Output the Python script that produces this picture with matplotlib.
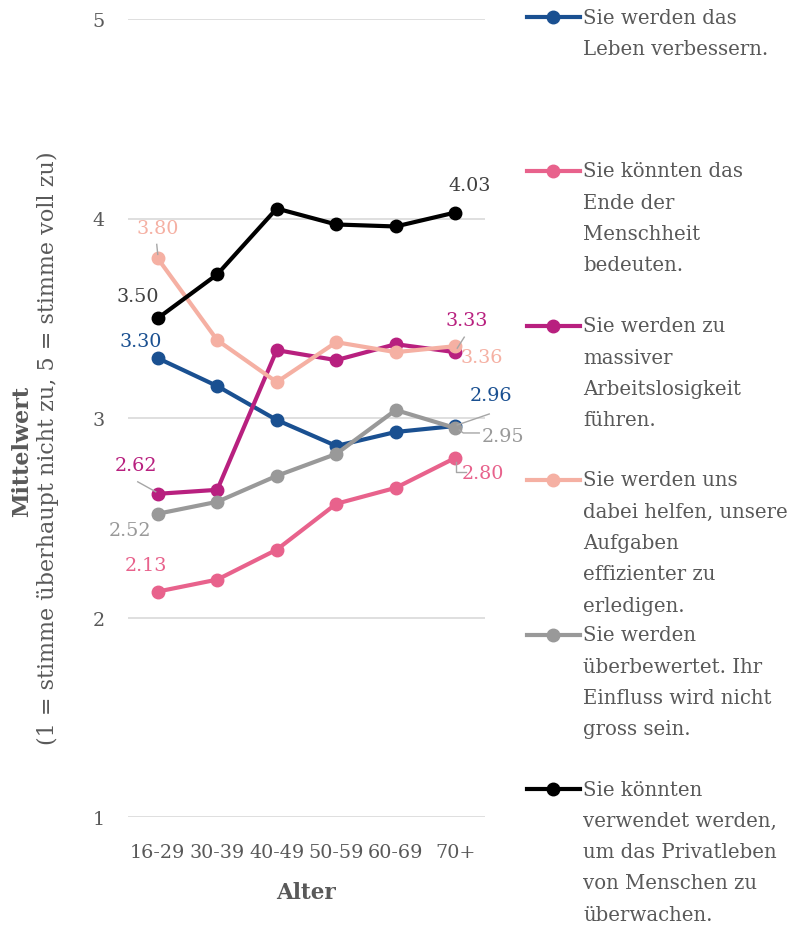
import matplotlib.pyplot as plt
from matplotlib.lines import Line2D

plt.rcParams['font.family'] = ['DejaVu Serif']

groups = ["16-29", "30-39", "40-49", "50-59", "60-69", "70+"]

leben = [3.30, 3.16, 2.99, 2.86, 2.93, 2.96]
ende = [2.13, 2.19, 2.34, 2.57, 2.65, 2.80]
arbeit = [2.62, 2.64, 3.34, 3.29, 3.37, 3.33]
effizient = [3.80, 3.39, 3.18, 3.38, 3.33, 3.36]
ueberbewertet = [2.52, 2.58, 2.71, 2.82, 3.04, 2.95]
privat = [3.50, 3.72, 4.05, 3.97, 3.96, 4.03]

labels = [
    ["Sie werden das", "Leben verbessern."],
    ["Sie könnten das", "Ende der", "Menschheit", "bedeuten."],
    ["Sie werden zu", "massiver", "Arbeitslosigkeit", "führen."],
    ["Sie werden uns", "dabei helfen, unsere", "Aufgaben", "effizienter zu", "erledigen."],
    ["Sie werden", "überbewertet. Ihr", "Einfluss wird nicht", "gross sein."],
    ["Sie könnten", "verwendet werden,", "um das Privatleben", "von Menschen zu", "überwachen."],
]

colors = ["#1a5091", "#e8628c", "#b8207f", "#f5b0a3", "#999999", "#000000"]
series = [leben, ende, arbeit, effizient, ueberbewertet, privat]
txt = "#595959"

W, H = 789, 928
fig = plt.figure(figsize=(W / 100, H / 100), dpi=100)
ax = fig.add_axes([128 / W, 1 - 818 / H, 357 / W, 798 / H])

x = list(range(len(groups)))
for vals, c in zip(series, colors):
    ax.plot(x, vals, color=c, lw=3, marker="o", ms=9, zorder=3)

ax.set_xlim(-0.5, 5.5)
ax.set_ylim(1, 5)
ax.set_yticks([1, 2, 3, 4, 5])
ax.set_xticks(x)
ax.set_xticklabels(groups)
ax.grid(axis="y", color="#d9d9d9", lw=1.2)
ax.set_axisbelow(True)
for s in ax.spines.values():
    s.set_visible(False)
ax.tick_params(length=0, labelsize=13.8, colors=txt)
ax.tick_params(axis="y", pad=17)
ax.tick_params(axis="x", pad=19)
ax.set_xlabel("Alter", fontsize=15.5, fontweight="bold", color=txt, labelpad=14)

fig.text(22 / W, 1 - 451 / H, "Mittelwert", rotation=90, ha="center", va="center",
         fontsize=16, fontweight="bold", color=txt)
fig.text(48 / W, 1 - 448 / H, "(1 = stimme überhaupt nicht zu, 5 = stimme voll zu)",
         rotation=90, ha="center", va="center", fontsize=16, color=txt)

# data labels: (series, index, dx, dy in pixels)
lab = [
    (0, 0, -17, 17), (0, 5, 36, 31),
    (1, 0, -12, 27), (1, 5, 28, -15),
    (2, 0, -22, 29), (2, 5, 11, 32),
    (3, 0, 0, 30), (3, 5, 26, -11),
    (4, 0, -28, -16), (4, 5, 48, -8),
    (5, 0, -20, 22), (5, 5, 14, 28),
]
for si, i, dx, dy in lab:
    v = series[si][i]
    ax.annotate(f"{v:.2f}", (i, v), xytext=(dx * 0.72, dy * 0.72), textcoords="offset points",
                ha="center", va="center", fontsize=13.8, color=colors[si] if si != 5 else "#404040",
                zorder=5)

# leader lines
leaders = [
    (0, 5, [(2, 1), (34, 12)]),
    (2, 0, [(-2, 2), (-20, 12)]),
    (2, 5, [(2, 4), (9, 15)]),
    (3, 0, [(0, 4), (-1, 14)]),
    (1, 5, [(1, -4), (1, -14), (11, -14)]),
    (4, 5, [(4, -2), (8, -5), (24, -5)]),
]
for si, i, pts in leaders:
    v = series[si][i]
    px, py = ax.transData.transform((i, v))
    xs = [(px + a) / W for a, b in pts]
    ys = [(py + b) / H for a, b in pts]
    fig.add_artist(Line2D(xs, ys, color="#a6a6a6", lw=1, zorder=4))

# legend
starts = [18, 172, 327, 481, 636, 790]
step = 31.3
for lines, c, y0 in zip(labels, colors, starts):
    yy = 1 - y0 / H
    fig.add_artist(Line2D([527 / W, 580 / W], [yy, yy], color=c, lw=3))
    fig.add_artist(Line2D([553 / W], [yy], color=c, marker="o", ms=9))
    for k, t in enumerate(lines):
        fig.text(583 / W, 1 - (y0 + k * step) / H, t, ha="left", va="center",
                 fontsize=14.2, color=txt)

fig.savefig("out.png", dpi=100)
